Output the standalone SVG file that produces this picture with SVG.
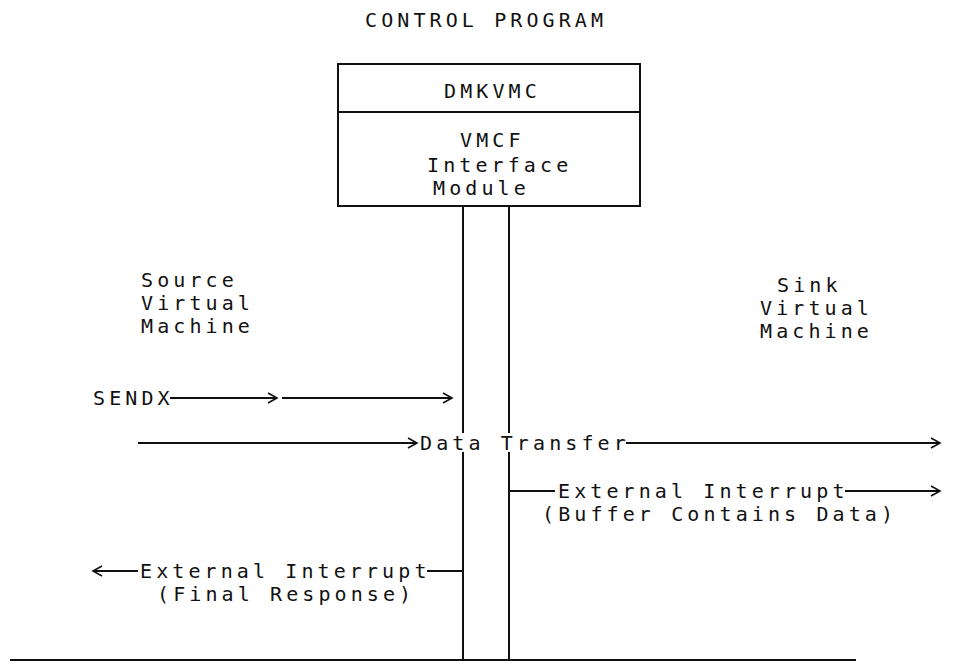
<svg xmlns="http://www.w3.org/2000/svg" width="967" height="664" viewBox="0 0 967 664">
<style>
  text { font-family: "DejaVu Sans Mono", "Liberation Mono", monospace; font-size: 20px; letter-spacing: 4.1px; fill: #111; }
  .ln { stroke: #111; stroke-width: 2; fill: none; }
  .box { stroke: #111; stroke-width: 2; fill: #fff; }
</style>
<defs>
  <marker id="chev" markerWidth="12" markerHeight="14" refX="10" refY="6" orient="auto" markerUnits="userSpaceOnUse">
    <polyline points="1,1 10,6 1,11" fill="none" stroke="#111" stroke-width="1.6"/>
  </marker>
</defs>
<rect width="967" height="664" fill="#fff"/>

<g id="title">
  <text x="365" y="27">CONTROL PROGRAM</text>
</g>

<g id="dmkvmc">
  <rect class="box" x="338" y="64" width="302" height="142"/>
  <line class="ln" x1="338" y1="112" x2="640" y2="112"/>
  <text x="444" y="98">DMKVMC</text>
  <text x="460" y="147">VMCF</text>
  <text x="427" y="172">Interface</text>
  <text x="433" y="195">Module</text>
</g>

<g id="source">
  <text x="141" y="287">Source</text>
  <text x="141" y="310">Virtual</text>
  <text x="141" y="333">Machine</text>
</g>

<g id="sink">
  <text x="777" y="292">Sink</text>
  <text x="760" y="315">Virtual</text>
  <text x="760" y="338">Machine</text>
</g>

<g id="labels">
  <text x="93" y="405">SENDX</text>
  <text x="420" y="450">Data Transfer</text>
  <text x="558" y="498">External Interrupt</text>
  <text x="542" y="521">(Buffer Contains Data)</text>
  <text x="140" y="578">External Interrupt</text>
  <text x="157" y="601">(Final Response)</text>
</g>

<g id="connectors">
  <line class="ln" x1="463" y1="206" x2="463" y2="433"/>
  <line class="ln" x1="463" y1="452" x2="463" y2="660"/>
  <line class="ln" x1="509" y1="206" x2="509" y2="433"/>
  <line class="ln" x1="509" y1="452" x2="509" y2="660"/>
  <line class="ln" x1="10" y1="660" x2="856" y2="660"/>
  <line class="ln" x1="170" y1="398" x2="277" y2="398" marker-end="url(#chev)"/>
  <line class="ln" x1="282" y1="398" x2="452" y2="398" marker-end="url(#chev)"/>
  <line class="ln" x1="138" y1="443" x2="417" y2="443" marker-end="url(#chev)"/>
  <line class="ln" x1="626" y1="443" x2="940" y2="443" marker-end="url(#chev)"/>
  <line class="ln" x1="509" y1="491" x2="555" y2="491"/>
  <line class="ln" x1="845" y1="491" x2="940" y2="491" marker-end="url(#chev)"/>
  <line class="ln" x1="463" y1="571" x2="427" y2="571"/>
  <line class="ln" x1="138" y1="571" x2="93" y2="571" marker-end="url(#chev)"/>
</g>
</svg>
